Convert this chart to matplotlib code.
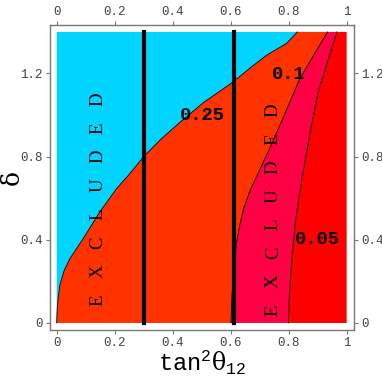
# Excluded regions in the (tan^2 theta12, delta) plane

import numpy as np
import matplotlib.pyplot as plt

plt.rcParams['mathtext.fontset'] = 'custom'
plt.rcParams['mathtext.rm'] = 'Liberation Mono'
plt.rcParams['mathtext.it'] = 'DejaVu Serif'

# boundary of the cyan excluded region, x as a function of delta
cyan_delta = [0, 0.03, 0.07, 0.12, 0.183, 0.25, 0.311, 0.407, 0.47, 0.535, 0.647, 0.71, 0.80,
              0.885, 0.965, 1.06, 1.16, 1.23, 1.288, 1.345, 1.40]
cyan_x = [0, 0.0005, 0.002, 0.005, 0.011, 0.025, 0.046, 0.092, 0.12, 0.149, 0.207, 0.247, 0.30,
          0.36, 0.425, 0.506, 0.609, 0.67, 0.724, 0.793, 0.83]

# contour 0.1
c10_delta = [0, 0.12, 0.231, 0.391, 0.47, 0.551, 0.63, 0.70, 0.82, 0.952, 1.176, 1.40]
c10_x = [0.601, 0.604, 0.609, 0.621, 0.631, 0.645, 0.665, 0.688, 0.728, 0.77, 0.839, 0.934]

# contour 0.05
c05_delta = [0, 0.12, 0.231, 0.35, 0.471, 0.59, 0.712, 0.91, 1.112, 1.40]
c05_x = [0.799, 0.802, 0.807, 0.814, 0.822, 0.834, 0.848, 0.873, 0.902, 0.966]

delta_max = 1.4
vlines_x = [0.3, 0.61]

xticks = [0, 0.2, 0.4, 0.6, 0.8, 1]
xticklabels = ['0', '0.2', '0.4', '0.6', '0.8', '1']
yticks = [0, 0.4, 0.8, 1.2]
yticklabels = ['0', '0.4', '0.8', '1.2']

contour_labels = ['0.25', '0.1', '0.05']
contour_label_pos = [(0.503, 0.996), (0.80, 1.197), (0.899, 0.40)]

word = 'EXCLUDED'

fig = plt.figure(figsize=(3.82, 3.82), dpi=100)
ax = fig.add_axes([0.1296, 0.136, 0.797, 0.7984])

cx = np.array(cyan_x)
cd = np.array(cyan_delta)
tx = np.array(c10_x)
td = np.array(c10_delta)
fx = np.array(c05_x)
fd = np.array(c05_delta)

# cyan
ax.fill(np.r_[0, cx, 0], np.r_[0, cd, delta_max], color='#00D4FF', lw=0)
# orange
ax.fill(np.r_[cx, tx[::-1]], np.r_[cd, td[::-1]], color='#FF3300', lw=0)
# pink
ax.fill(np.r_[tx, fx[::-1]], np.r_[td, fd[::-1]], color='#FF0044', lw=0)
# red
ax.fill(np.r_[fx, 1, 1], np.r_[fd, delta_max, 0], color='#FF0000', lw=0)

for bx, bd in [(cx, cd), (tx, td), (fx, fd)]:
    ax.plot(bx, bd, color='black', lw=0.6)

for v in vlines_x:
    ax.plot([v, v], [0, delta_max], color='black', lw=3)

for lab, (px, py) in zip(contour_labels, contour_label_pos):
    ax.text(px, py, lab, fontsize=13.5, fontweight='bold', family='Liberation Mono',
            ha='center', va='center')

# rotated spaced "EXCLUDED" labels
for x0, d0, step in [(0.143, 0.11, 0.138), (0.747, 0.0625, 0.137)]:
    for i, ch in enumerate(word):
        ax.text(x0, d0 + i*step, ch, rotation=90, fontsize=13.5, family='Liberation Serif',
                ha='center', va='center')

ax.set_xlim(-0.0248, 1.0252)
ax.set_ylim(-0.034, 1.433)

ax.set_xticks(xticks)
ax.set_xticklabels(xticklabels)
ax.set_yticks(yticks)
ax.set_yticklabels(yticklabels)
ax.tick_params(top=True, right=True, labeltop=True, labelright=True, direction='out',
               length=3, width=0.8, color='#777777', labelcolor='#444444', labelsize=9, pad=2)
for t in ax.get_xticklabels() + ax.get_yticklabels():
    t.set_family('Liberation Mono')
for s in ax.spines.values():
    s.set_color('#777777')
    s.set_linewidth(1)

ax.set_xlabel(r'$\mathrm{tan}^{2}\theta_{12}$', fontsize=17, va='center')
ax.xaxis.set_label_coords(0.5, -0.108)
ax.set_ylabel('δ', fontsize=18, family='DejaVu Serif', rotation=90, va='center', ha='center')
ax.yaxis.set_label_coords(-0.122, 0.5)

fig.savefig('out.png', dpi=100)
